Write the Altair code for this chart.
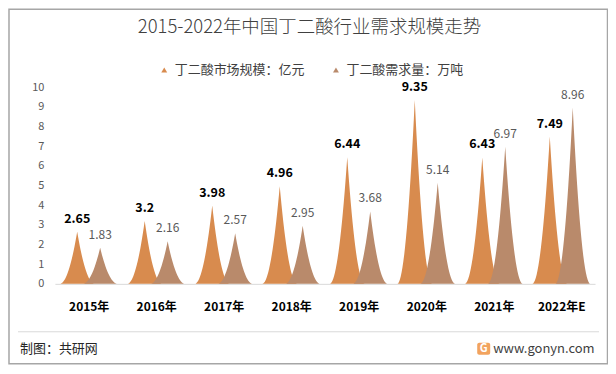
import json
import altair as alt
import pandas as pd

years = ["2015年", "2016年", "2017年", "2018年", "2019年", "2020年", "2021年", "2022年E"]
market = [2.65, 3.2, 3.98, 4.96, 6.44, 9.35, 6.43, 7.49]
demand = [1.83, 2.16, 2.57, 2.95, 3.68, 5.14, 6.97, 8.96]
series_names = ["丁二酸市场规模：亿元", "丁二酸需求量：万吨"]
colors = ["#D88B4E", "#B98A6B"]
y_ticks = [0, 1, 2, 3, 4, 5, 6, 7, 8, 9, 10]

rows = []
for i, y in enumerate(years):
    rows.append({"idx": i, "year": y, "series": series_names[0], "value": market[i], "side": -1})
    rows.append({"idx": i, "year": y, "series": series_names[1], "value": demand[i], "side": 1})
df = pd.DataFrame(rows)

FONT = "Noto Sans CJK SC"
label_expr = json.dumps(years, ensure_ascii=False) + "[datum.value]"

xscale = alt.Scale(domain=[-0.5, 7.5], nice=False, zero=False)
yscale = alt.Scale(domain=[0, 10], nice=False)

xaxis = alt.Axis(values=list(range(len(years))), labelExpr=label_expr, title=None,
                 ticks=False, grid=False, domainColor="#D9D9D9", domainWidth=1,
                 labelFont=FONT, labelFontSize=12, labelFontWeight="bold",
                 labelColor="#000000", labelPadding=18)
yaxis = alt.Axis(values=y_ticks, title=None, ticks=False, grid=False, domain=False,
                 labelFont=FONT, labelFontSize=11, labelColor="#595959", labelPadding=11,
                 labelOverlap=False, labelFlush=False, tickCount=11)

base = alt.Chart(df)

spike_base = base.transform_calculate(
    t="sequence(-1, 1.0001, 0.05)"
).transform_flatten(["t"]).transform_calculate(
    px="datum.idx + datum.side*0.17 + datum.t*0.26",
    py="datum.value*pow(max(0, 1-abs(datum.t)), 2)",
)

color_enc = alt.Color("series:N",
                      scale=alt.Scale(domain=series_names, range=colors),
                      legend=alt.Legend(orient="none", legendX=103, legendY=-24,
                                        direction="horizontal", title=None,
                                        symbolType="triangle-up", symbolSize=35,
                                        labelFont=FONT, labelFontSize=13,
                                        labelColor="#404040", columnPadding=24,
                                        labelOffset=4))

def spikes(name):
    return spike_base.transform_filter(alt.datum.series == name).mark_area(
        interpolate="linear", opacity=1
    ).encode(
        x=alt.X("px:Q", scale=xscale, axis=xaxis),
        y=alt.Y("py:Q", scale=yscale, axis=yaxis, stack=None),
        color=color_enc,
        detail="year:N",
    )

def labels(name, weight, color, size):
    return base.transform_filter(alt.datum.series == name).transform_calculate(
        px="datum.idx + datum.side*0.17"
    ).mark_text(baseline="middle", dy=-13, font=FONT, fontSize=size,
                fontWeight=weight, color=color).encode(
        x=alt.X("px:Q", scale=xscale, axis=xaxis),
        y=alt.Y("value:Q", scale=yscale, axis=yaxis),
        text=alt.Text("value:Q"),
    )

one = alt.Chart(pd.DataFrame({"a": [0]}))

title = one.mark_text(text="2015-2022年中国丁二酸行业需求规模走势", font=FONT, fontSize=18.5,
                      fontWeight=300, color="#404040", baseline="middle", align="center").encode(
    x=alt.value(255), y=alt.value(-60))

border = one.mark_rect(filled=False, stroke="#A6A6A6", strokeWidth=1.5).encode(
    x=alt.value(-46), x2=alt.value(553.5), y=alt.value(-78), y2=alt.value(277))

footer_line = one.mark_rule(color="#D9D9D9", strokeWidth=1).encode(
    x=alt.value(-37), x2=alt.value(545), y=alt.value(245))

footer_text = one.mark_text(text="制图：共研网", font=FONT, fontSize=13, color="#262626",
                            align="left", baseline="middle").encode(
    x=alt.value(-35), y=alt.value(262))

logo_icon = one.mark_rect(color="#F2A35E", cornerRadius=2).encode(
    x=alt.value(423), x2=alt.value(436), y=alt.value(256), y2=alt.value(268))
logo_g = one.mark_text(text="G", font=FONT, fontSize=11, fontWeight="bold", color="#FFFFFF",
                       align="center", baseline="middle").encode(
    x=alt.value(429.5), y=alt.value(262))
logo_text = one.mark_text(text="www.gonyn.com", font=FONT, fontSize=13, color="#404040",
                          align="left", baseline="middle").encode(
    x=alt.value(439), y=alt.value(262))

chart = alt.layer(
    border, title, footer_line, footer_text, logo_icon, logo_g, logo_text,
    spikes(series_names[0]), spikes(series_names[1]),
    labels(series_names[0], "bold", "#000000", 12.5),
    labels(series_names[1], "normal", "#595959", 12),
).properties(
    width=541, height=197,
    padding={"left": 47, "top": 79, "right": 13, "bottom": 81},
    autosize=alt.AutoSizeParams(type="none"),
    background="#FFFFFF",
).configure_view(stroke=None).configure_axisY(labelOverlap=False)

chart.save("out.html", embed_options={"renderer": "svg", "actions": False})
